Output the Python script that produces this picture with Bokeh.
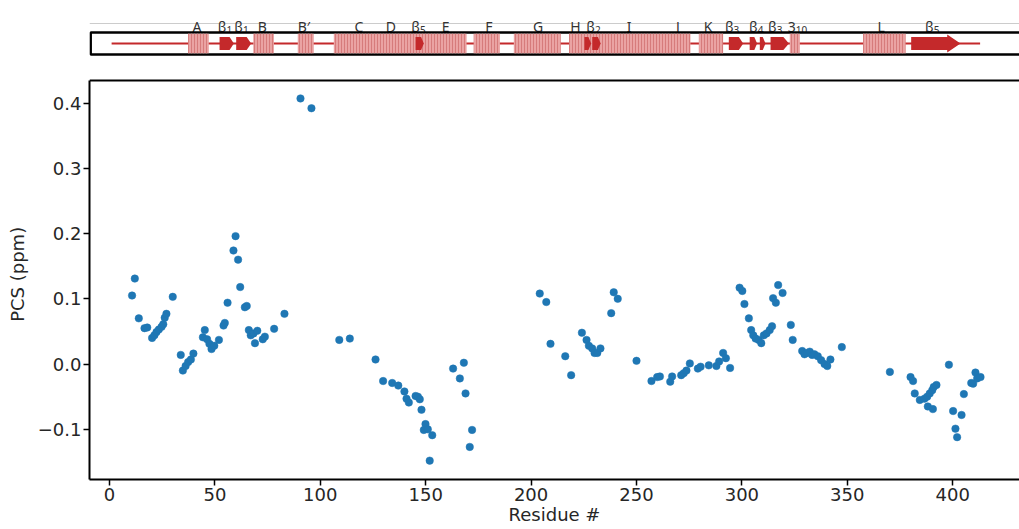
from bokeh.plotting import figure
from bokeh.models import Range1d, FixedTicker
from bokeh.core.properties import value
from bokeh.embed import file_html
from bokeh.resources import INLINE

# Pseudocontact shifts per residue
residue = [
    10.7, 12.0, 13.9, 16.6, 17.9, 20.2, 21.3, 22.3, 23.4, 24.7, 25.5, 26.2, 27.0, 30.0,
    33.8, 34.8, 36.1, 37.3, 38.6, 39.8, 44.3, 45.2, 46.3, 47.4, 48.4, 49.7, 51.9,
    54.1, 54.7, 56.0, 58.8, 59.8, 61.0, 62.0, 64.2, 65.1, 66.1, 67.0, 68.3, 69.0,
    70.1, 72.7, 73.7, 78.1, 83.0, 90.6, 95.8,
    109.0, 114.0, 126.2, 129.8, 134.1, 137.0, 139.9, 140.9, 142.0, 145.2, 146.3,
    147.2, 148.0, 149.1, 149.9, 151.0, 151.9, 153.1, 163.0, 166.2, 168.1, 168.9,
    170.9, 172.0,
    204.1, 207.2, 209.2, 216.2, 219.0, 224.1, 226.3, 227.4, 229.0, 230.1, 231.4,
    232.9, 238.0, 239.2, 241.1, 250.0, 257.1, 259.8, 261.1, 266.0, 266.9, 271.2,
    272.4, 273.7, 275.3, 279.1, 280.4, 284.3, 287.9, 289.2, 291.1, 292.4, 294.4,
    298.9, 300.2, 301.2, 303.3, 304.4, 305.4, 306.5, 308.0, 309.2, 310.4, 311.7,
    313.2, 314.3, 314.8, 316.1, 317.2, 319.3, 323.2, 324.1, 328.6, 329.7, 330.9,
    332.2, 333.3, 334.4, 336.0, 337.6, 339.2, 340.5, 342.0, 347.4,
    370.2, 380.0, 381.2, 382.0, 384.4, 386.6, 387.9, 388.2, 389.1, 390.3, 390.6,
    391.0, 392.3, 398.2, 400.2, 401.3, 402.1, 404.2, 405.3, 408.8, 409.7, 410.8,
    411.6, 413.2,
]
pcs = [
    0.105, 0.131, 0.070, 0.055, 0.056, 0.040, 0.044, 0.049, 0.053, 0.057, 0.061, 0.071, 0.077, 0.103,
    0.014, -0.010, -0.003, 0.003, 0.007, 0.016, 0.041, 0.052, 0.038, 0.031, 0.023, 0.028, 0.037,
    0.059, 0.063, 0.094, 0.174, 0.196, 0.160, 0.118, 0.087, 0.089, 0.052, 0.044, 0.047, 0.032,
    0.051, 0.038, 0.042, 0.054, 0.077, 0.407, 0.392,
    0.037, 0.039, 0.007, -0.026, -0.029, -0.033, -0.042, -0.053, -0.059, -0.049, -0.050,
    -0.054, -0.070, -0.101, -0.092, -0.100, -0.148, -0.109, -0.007, -0.022, 0.002, -0.045,
    -0.127, -0.101,
    0.108, 0.095, 0.031, 0.012, -0.017, 0.048, 0.037, 0.028, 0.024, 0.017, 0.017,
    0.024, 0.078, 0.110, 0.100, 0.005, -0.026, -0.020, -0.019, -0.027, -0.019, -0.017,
    -0.014, -0.010, 0.001, -0.007, -0.004, -0.002, -0.003, 0.004, 0.017, 0.009, -0.006,
    0.117, 0.112, 0.092, 0.070, 0.052, 0.044, 0.039, 0.037, 0.032, 0.044, 0.047,
    0.052, 0.058, 0.101, 0.094, 0.121, 0.109, 0.060, 0.037, 0.020, 0.015, 0.017,
    0.019, 0.014, 0.015, 0.012, 0.006, 0.000, -0.003, 0.007, 0.026,
    -0.012, -0.020, -0.026, -0.045, -0.055, -0.053, -0.050, -0.065, -0.045, -0.040, -0.069,
    -0.035, -0.032, -0.001, -0.072, -0.099, -0.112, -0.078, -0.046, -0.029, -0.030, -0.013,
    -0.022, -0.020,
]

# Secondary structure map (residue numbers)
chain_start, chain_end = 1.0, 413.0
helix_start = [37.3, 68.2, 89.3, 106.4, 172.8, 191.8, 218.0, 279.6, 322.7, 357.5]
helix_end = [47.1, 78.0, 96.9, 169.4, 185.2, 214.0, 275.6, 291.1, 327.5, 377.6]
strand_start = [52.2, 60.1, 145.2, 225.3, 229.0, 293.8, 303.7, 308.5, 313.6, 380.3]
strand_end = [59.0, 67.2, 149.1, 228.5, 233.0, 300.6, 307.2, 311.2, 322.3, 403.7]
ss_name = ["A", "β", "β", "B", "B′", "C", "D", "β", "E", "F", "G", "H", "β",
           "I", "J", "K", "β", "β", "β", "3", "L", "β"]
ss_sub = ["", "1", "1", "", "", "", "", "5", "", "", "", "", "2",
          "", "", "", "3", "4", "3", "10", "", "5"]
ss_label_pos = [41.5, 55.0, 62.8, 72.5, 92.2, 118.3, 133.5, 146.8, 159.5, 180.0, 203.3,
                221.0, 229.8, 246.5, 269.7, 283.9, 295.6, 307.0, 316.0, 326.5, 366.1, 390.5]

x_ticks = [0, 50, 100, 150, 200, 250, 300, 350, 400]
y_ticks = [-0.1, 0.0, 0.1, 0.2, 0.3, 0.4]

W, H = 1019, 529
LEFT, BOTTOM = 89, 50
STRIP = 80                       # height of the secondary-structure strip above the axes
X0, X1 = -9.49, 431.69
Y0, Y1 = -0.1769, 0.4345
frame_h = H - BOTTOM
px_per_val = (frame_h - STRIP) / (Y1 - Y0)
y_top = Y1 + STRIP / px_per_val
px_per_res = (W - LEFT) / (X1 - X0)

FONT = "DejaVu Sans"
RED = "#c4292b"
INK = "#262626"

p = figure(width=W, height=H, x_range=Range1d(X0, X1), y_range=Range1d(Y0, y_top),
           toolbar_location=None, output_backend="svg",
           min_border_left=LEFT, min_border_right=0, min_border_top=0,
           min_border_bottom=BOTTOM)
p.extra_y_ranges = {"strip": Range1d(frame_h, 0)}   # strip drawn in pixel rows from the top
p.outline_line_color = None
p.grid.visible = False

# ---- secondary structure strip ----
sy = "strip"
p.line([X0, X1 + 5], [23, 23], line_color="#cccccc", line_width=1, y_range_name=sy)

# labels: plain names centred, names with subscripts split into two glyph runs
plain_x, plain_t, base_x, base_t, sub_x, sub_t = [], [], [], [], [], []
for name, sub, pos in zip(ss_name, ss_sub, ss_label_pos):
    if not sub:
        plain_x.append(pos)
        plain_t.append(name)
    else:
        shift = (6.0 * len(sub) - 8.0) / 2 / px_per_res
        base_x.append(pos - shift)
        base_t.append(name)
        sub_x.append(pos - shift)
        sub_t.append(sub)
label_style = dict(text_font=value("Noto Sans"), text_color="#333333",
                   text_baseline="alphabetic", y_range_name=sy)
p.text(x=plain_x, y=[26] * len(plain_x), text=plain_t, text_font_size="14px",
       text_align="center", **label_style)
p.text(x=base_x, y=[26] * len(base_x), text=base_t, text_font_size="14px",
       text_align="right", **label_style)
p.text(x=sub_x, y=[29] * len(sub_x), text=sub_t, text_font_size="10px",
       text_align="left", **label_style)

box_left = X0 + 1.2 / px_per_res
p.quad(left=[box_left], right=[X1 + 10], top=[32], bottom=[54],
       fill_color="white", line_color="black", line_width=2.5, y_range_name=sy)
p.line([chain_start, chain_end], [43, 43], line_color=RED, line_width=2, y_range_name=sy)

p.quad(left=helix_start, right=helix_end, top=[33.3] * len(helix_start),
       bottom=[52.7] * len(helix_start), fill_color="#eaa3a3", line_color=None,
       hatch_pattern="vertical_line", hatch_color="#d67b7b", hatch_scale=3, hatch_weight=1,
       y_range_name=sy)

xs, ys = [], []
for s, e in zip(strand_start, strand_end):
    length = e - s
    head = min(6.3, max(1.3, 0.3 * length))
    flare = 2.5 if length > 10 else 0.0
    b = e - head
    xs.append([s, b, b, e, b, b, s])
    ys.append([36.5, 36.5, 36.5 - flare, 43, 49.5 + flare, 49.5, 49.5])
p.patches(xs, ys, fill_color=RED, line_color=None, y_range_name=sy)

# top edge of the data axes
p.line([X0, X1 + 10], [Y1, Y1], line_color="black", line_width=2)

# ---- PCS scatter ----
p.scatter(residue, pcs, size=7.5, fill_color="#1f77b4", line_color="#1f77b4", line_width=0.5)

xa, ya = p.below[0], p.left[0]
for ax in (xa, ya):
    ax.axis_line_width = 2
    ax.axis_line_color = "black"
    ax.major_tick_line_width = 1.5
    ax.major_tick_line_color = "black"
    ax.major_tick_out = 6
    ax.major_tick_in = 0
    ax.minor_tick_out = 0
    ax.minor_tick_in = 0
    ax.major_label_text_font = FONT
    ax.major_label_text_font_size = "18px"
    ax.major_label_text_color = INK
    ax.axis_label_text_font = FONT
    ax.axis_label_text_font_size = "18px"
    ax.axis_label_text_font_style = "normal"
    ax.axis_label_text_color = INK

xa.ticker = FixedTicker(ticks=x_ticks)
xa.axis_label = "Residue #"
xa.major_label_standoff = 2
xa.axis_label_standoff = 0

ya.ticker = FixedTicker(ticks=y_ticks)
ya.bounds = (Y0, Y1)
ya.major_label_overrides = {t: f"{t:.1f}".replace("-", "−") for t in y_ticks}
# the label is centred on the full frame; trailing no-break spaces move it onto the data axis
ya.axis_label = "PCS (ppm)" + "\u00a0" * 12
ya.major_label_standoff = 2
ya.axis_label_standoff = 7

open("out.html", "w").write(file_html(p, INLINE))
